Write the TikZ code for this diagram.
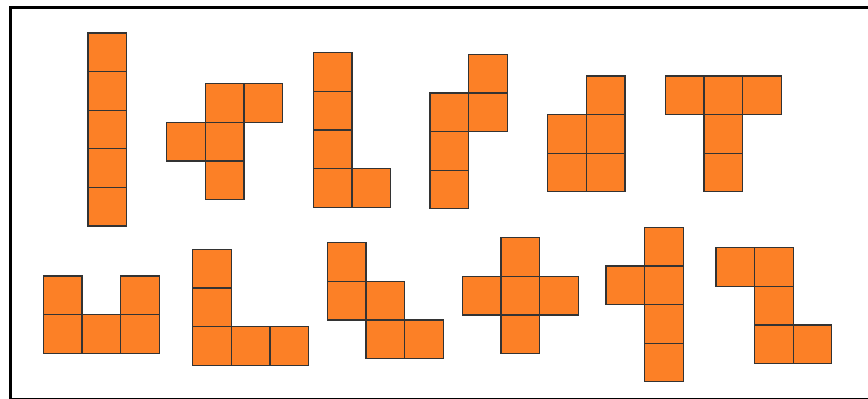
\documentclass[tikz,border=0pt]{standalone}
\usepackage{xcolor}
\usepackage{tikz}
\definecolor{pentorange}{HTML}{FC8026}
\definecolor{pentedge}{HTML}{333333}

\tikzset{
  cell/.style={fill=pentorange, draw=pentedge, line width=1.2pt},
  frame/.style={draw=black, line width=3pt}
}

\begin{document}
\begin{tikzpicture}[x=1pt, y=-1pt]
    \useasboundingbox (0,0) rectangle (868,399);
    \clip (0,0) rectangle (868,399);
    \draw[frame] (10,7) rectangle (880,399.6);

    % top row
    \begin{scope}[shift={(88,33)}]
      \foreach \i/\j in {0/0,0/1,0/2,0/3,0/4}
        \draw[cell] (\i*38.6,\j*38.6) rectangle ++(38.6,38.6);
    \end{scope}
    \begin{scope}[shift={(166.7,83.7)}]
      \foreach \i/\j in {1/0,2/0,0/1,1/1,1/2}
        \draw[cell] (\i*38.6,\j*38.6) rectangle ++(38.6,38.6);
    \end{scope}
    \begin{scope}[shift={(313.3,52.7)}]
      \foreach \i/\j in {0/0,0/1,0/2,0/3,1/3}
        \draw[cell] (\i*38.6,\j*38.6) rectangle ++(38.6,38.6);
    \end{scope}
    \begin{scope}[shift={(430,54.3)}]
      \foreach \i/\j in {1/0,0/1,1/1,0/2,0/3}
        \draw[cell] (\i*38.6,\j*38.6) rectangle ++(38.6,38.6);
    \end{scope}
    \begin{scope}[shift={(547.7,76)}]
      \foreach \i/\j in {1/0,0/1,1/1,0/2,1/2}
        \draw[cell] (\i*38.6,\j*38.6) rectangle ++(38.6,38.6);
    \end{scope}
    \begin{scope}[shift={(665.3,76)}]
      \foreach \i/\j in {0/0,1/0,2/0,1/1,1/2}
        \draw[cell] (\i*38.6,\j*38.6) rectangle ++(38.6,38.6);
    \end{scope}

    % bottom row
    \begin{scope}[shift={(43.3,276)}]
      \foreach \i/\j in {0/0,2/0,0/1,1/1,2/1}
        \draw[cell] (\i*38.6,\j*38.6) rectangle ++(38.6,38.6);
    \end{scope}
    \begin{scope}[shift={(192.7,249.3)}]
      \foreach \i/\j in {0/0,0/1,0/2,1/2,2/2}
        \draw[cell] (\i*38.6,\j*38.6) rectangle ++(38.6,38.6);
    \end{scope}
    \begin{scope}[shift={(327.3,242.7)}]
      \foreach \i/\j in {0/0,0/1,1/1,1/2,2/2}
        \draw[cell] (\i*38.6,\j*38.6) rectangle ++(38.6,38.6);
    \end{scope}
    \begin{scope}[shift={(462.3,237.7)}]
      \foreach \i/\j in {1/0,0/1,1/1,2/1,1/2}
        \draw[cell] (\i*38.6,\j*38.6) rectangle ++(38.6,38.6);
    \end{scope}
    \begin{scope}[shift={(606,227.3)}]
      \foreach \i/\j in {1/0,0/1,1/1,1/2,1/3}
        \draw[cell] (\i*38.6,\j*38.6) rectangle ++(38.6,38.6);
    \end{scope}
    \begin{scope}[shift={(716,247.7)}]
      \foreach \i/\j in {0/0,1/0,1/1,1/2,2/2}
        \draw[cell] (\i*38.6,\j*38.6) rectangle ++(38.6,38.6);
    \end{scope}
  \end{tikzpicture}
\end{document}
